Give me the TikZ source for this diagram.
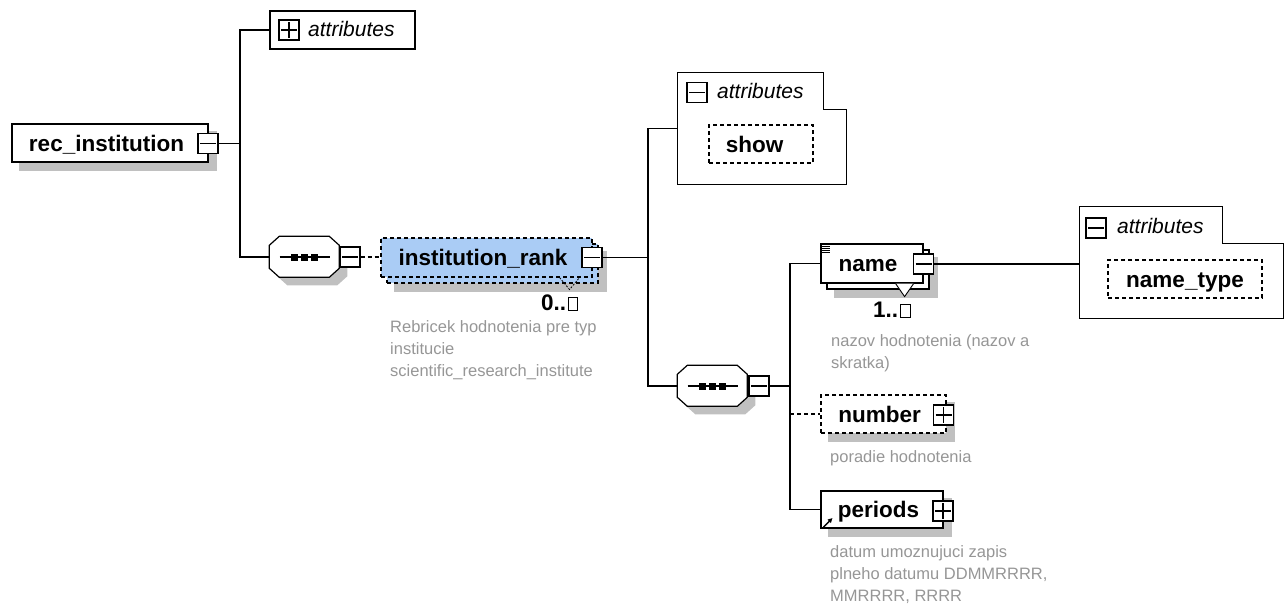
\documentclass[tikz,border=0pt]{standalone}
\usepackage{fontspec}
\setmainfont{Liberation Sans}
\usetikzlibrary{arrows.meta}
\pgfdeclarelayer{bg}
\pgfsetlayers{bg,main}
\definecolor{shadowc}{RGB}{192,192,192}
\definecolor{rankblue}{RGB}{170,204,245}
\definecolor{notec}{RGB}{150,150,150}
\tikzset{
 elbox/.style={draw, fill=white, line width=1.2pt, inner sep=0pt, font=\fontsize{22.5}{26}\selectfont\bfseries, text height=18pt, text depth=2pt},
 optbox/.style={elbox, line width=1.1pt, dash pattern=on 4pt off 3pt},
 pmbox/.style={draw, fill=white, line width=1.2pt, minimum width=20pt, minimum height=20pt, inner sep=0pt},
 minusbox/.style={pmbox, path picture={\draw[line width=1.2pt] ([xshift=2pt]path picture bounding box.west) -- ([xshift=-2pt]path picture bounding box.east);}},
 plusbox/.style={pmbox, path picture={\draw[line width=1.2pt] ([xshift=2pt]path picture bounding box.west) -- ([xshift=-2pt]path picture bounding box.east) ([yshift=-2pt]path picture bounding box.north) -- ([yshift=2pt]path picture bounding box.south);}},
 attrlbl/.style={font=\fontsize{21}{24}\selectfont\itshape, inner sep=0pt, anchor=base west},
 cardlbl/.style={font=\fontsize{22.5}{26}\selectfont\bfseries, inner sep=0pt, anchor=base west},
 note/.style={font=\fontsize{16.5}{22}\selectfont, text=notec, align=left, inner sep=0pt, anchor=north west},
 conn/.style={line width=1.2pt},
 optconn/.style={conn, line width=1.1pt, dash pattern=on 4pt off 3pt},
 seqbox/.style={minimum width=70pt, minimum height=41pt, inner sep=0pt},
 tofu/.style={draw, line width=0.9pt, minimum width=9pt, minimum height=13pt, inner sep=0pt, anchor=south west},
 framebox/.style={inner sep=0pt},
}
\newcommand\shadowof[1]{\fill[shadowc] ([shift={(8pt,-8pt)}]#1.north west) rectangle ([shift={(8pt,-8pt)}]#1.south east);}
\newcommand\seqnode[2]{%
  \node[seqbox] (#1) at (#2) {};
  \begin{pgfonlayer}{bg}
  \fill[shadowc] (#1.north west) ++(18pt,-8pt) -- ++(50,0) -- ++(10,9) -- ++(0,23) -- ++(-10,9) -- ++(-50,0) -- ++(-10,-9) -- ++(0,-23) -- cycle;
  \end{pgfonlayer}
  \draw[fill=white, line width=1.2pt] (#1.north west) ++(10,0) -- ++(50,0) -- ++(10,9) -- ++(0,23) -- ++(-10,9) -- ++(-50,0) -- ++(-10,-9) -- ++(0,-23) -- cycle;
  \draw[line width=1.2pt] ([xshift=-25pt]#1.center) -- ([xshift=25pt]#1.center);
  \foreach \dd in {-10,0,10} \fill ([xshift=\dd pt]#1.center) +(-3.5,-3.5) rectangle +(3.5,3.5);
}
\begin{document}
\begin{tikzpicture}[x=1pt,y=-1pt]
\useasboundingbox (0,0) rectangle (1285,603);

% root
\node[elbox, minimum width=196pt, minimum height=38pt] (rec) at (110,143) {rec\_institution\hspace*{7pt}};
\node[minusbox] (mrec) at (208,143.5) {};

% top attributes
\node[draw, fill=white, line width=1.2pt, minimum width=145pt, minimum height=38pt, inner sep=0pt] (attrA) at (342.5,30) {};
\node[plusbox] (pA) at (289,30) {};
\node[attrlbl] (tA) at (308,36) {attributes};

% sequence 1
\seqnode{seq1}{304.5,257}
\node[minusbox] (mseq1) at (350,257) {};

% institution_rank
\node[optbox, fill=rankblue, minimum width=211pt, minimum height=39pt] (rankback) at (492.5,263.5) {};
\node[optbox, fill=rankblue, minimum width=211pt, minimum height=39pt] (rank) at (486.5,257.5) {institution\_rank\hspace*{7pt}};
\node[minusbox] (mrank) at (592,257.5) {};
\draw[dash pattern=on 2pt off 1.5pt, line width=0.8pt] (rank.south east) ++(-33,0) -- ++(10,12) -- ++(10,-12);
\node[cardlbl] (card1) at (541,310) {0..};
\node[tofu] (inf1) at (568,311) {};
\node[note] (doc1) at (390,320) {Rebricek hodnotenia pre typ\\institucie\\scientific\_research\_institute};

% attributes with show
\node[framebox, minimum width=168pt, minimum height=111pt] (attrShow) at (762,128.5) {};
\draw[fill=white, line width=1.2pt] (attrShow.north west) -- ++(146,0) -- ++(0,37) -| (attrShow.south east) -- (attrShow.south west) -- cycle;
\node[minusbox] (mS) at (697,92.5) {};
\node[attrlbl] (tS) at (717,98) {attributes};
\node[optbox, minimum width=104pt, minimum height=38pt] (show) at (761,144) {show\hspace*{13pt}};

% sequence 2
\seqnode{seq2}{712.5,386}
\node[minusbox] (mseq2) at (759,386) {};

% name
\node[elbox, minimum width=102pt, minimum height=39pt] (nameback) at (878,269.5) {};
\node[elbox, minimum width=102pt, minimum height=39pt] (name) at (872,263.5) {name\hspace*{8pt}};
\node[minusbox] (mname) at (923.5,264) {};
\foreach \yy in {2.5,4.5,6.5,8.5} \draw[line width=0.8pt] ([xshift=2pt,yshift=-\yy pt]name.north west) -- ++(8,0);
\draw[fill=white, line width=0.9pt] (name.south east) ++(-28,0) -- ++(9,13) -- ++(9,-13);
\node[cardlbl] (card2) at (873,317) {1..};
\node[tofu, minimum width=10pt] (inf2) at (900,318) {};
\node[note] (doc2) at (831,334) {nazov hodnotenia (nazov a\\skratka)};

% attributes with name_type
\node[framebox, minimum width=203pt, minimum height=111pt] (attrNT) at (1181.5,262.5) {};
\draw[fill=white, line width=1.2pt] (attrNT.north west) -- ++(143,0) -- ++(0,37) -| (attrNT.south east) -- (attrNT.south west) -- cycle;
\node[minusbox] (mN) at (1096,228) {};
\node[attrlbl] (tN) at (1117,233) {attributes};
\node[optbox, minimum width=154pt, minimum height=38pt] (nt) at (1185,279) {name\_type};

% number
\node[optbox, minimum width=125pt, minimum height=38pt] (number) at (883.5,414) {number\hspace*{8pt}};
\node[plusbox] (pnum) at (943.5,415) {};
\node[note] (doc3) at (830,450) {poradie hodnotenia};

% periods
\node[elbox, minimum width=122pt, minimum height=37pt] (periods) at (882,509.5) {periods\hspace*{7pt}};
\node[plusbox] (pper) at (943,511) {};
\draw[line width=1.4pt, -{Triangle[length=4.5pt,width=4.5pt]}] ([xshift=3pt,yshift=1.5pt]periods.south west) -- ++(9,-9);
\node[note] (doc4) at (830,545) {datum umoznujuci zapis\\plneho datumu DDMMRRRR,\\MMRRRR, RRRR};

% shadows
\begin{pgfonlayer}{bg}
\shadowof{rec}
\shadowof{rankback}
\shadowof{show}
\shadowof{nameback}
\shadowof{nt}
\shadowof{number}
\shadowof{periods}
\end{pgfonlayer}

% connectors
\coordinate (j1) at (240,143.5);
\draw[conn] (mrec.east) -- (j1);
\draw[conn] (attrA.west) -| (j1) |- (seq1.west);
\draw[optconn] (mseq1.east) -- (mseq1.east -| rank.west);
\coordinate (j2) at (648,257.5);
\draw[conn] (mrank.east) -- (j2);
\draw[conn] (attrShow.west) -| (j2) |- (seq2.west);
\coordinate (j3) at (790,386);
\draw[conn] (mseq2.east) -- (j3);
\draw[conn] (name.west) -| (j3) |- (periods.west);
\draw[optconn] (j3 |- number.west) -- (number.west);
\draw[conn] (mname.east) -- (mname.east -| attrNT.west);
\end{tikzpicture}
\end{document}
